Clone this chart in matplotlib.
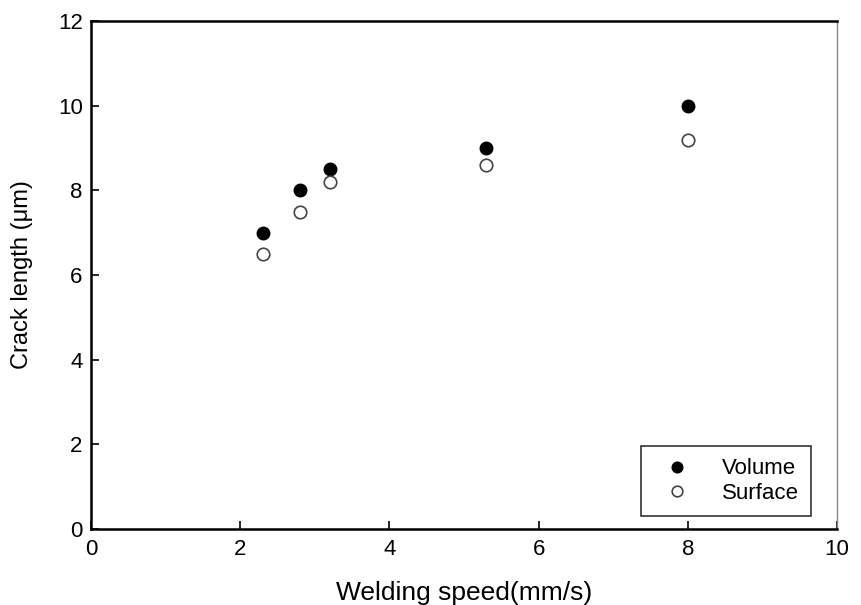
import matplotlib
matplotlib.use("Agg")
import matplotlib.pyplot as plt
from matplotlib import font_manager

speed = [2.3, 2.8, 3.2, 5.3, 8.0]
volume = [7.0, 8.0, 8.5, 9.0, 10.0]
surface = [6.5, 7.5, 8.2, 8.6, 9.2]
xticks = [0, 2, 4, 6, 8, 10]
yticks = [0, 2, 4, 6, 8, 10, 12]

plt.rcParams['font.family'] = ['Liberation Sans', 'DejaVu Sans']
names = {f.name for f in font_manager.fontManager.ttflist}
tick_family = ['Liberation Sans Narrow'] if 'Liberation Sans Narrow' in names else ['Liberation Sans']

fig = plt.figure(figsize=(8.61, 6.05), dpi=100)
ax = fig.add_axes([91/861, 1-529/605, (837-91)/861, (529-21)/605])

ax.plot(speed, volume, 'o', color='black', markersize=9, label='Volume', linestyle='none')
ax.plot(speed, surface, 'o', markerfacecolor='white', markeredgecolor='#444444',
        markeredgewidth=1.2, markersize=9, label='Surface', linestyle='none')

ax.set_xlim(0, 10)
ax.set_ylim(0, 12)
ax.set_xticks(xticks)
ax.set_yticks(yticks)
ax.tick_params(direction='in', length=6, width=1.2, labelsize=16, pad=6)
ax.tick_params(axis='x', pad=7)
for lab in ax.get_xticklabels() + ax.get_yticklabels():
    lab.set_family(tick_family)

ax.spines['left'].set_linewidth(1.8)
ax.spines['bottom'].set_linewidth(1.8)
ax.spines['top'].set_linewidth(1.8)
ax.spines['right'].set_linewidth(1.0)
ax.spines['right'].set_color('#888888')

ax.set_xlabel('Welding speed(mm/s)', fontsize=19, labelpad=15)
ax.set_ylabel('Crack length (μm)', fontsize=17, labelpad=18)

leg = ax.legend(loc='lower right', bbox_to_anchor=((811-91)/746, (529-516)/508),
                fontsize=16, frameon=True, fancybox=False, edgecolor='black',
                borderpad=0.55, handletextpad=0.9, labelspacing=0.15, borderaxespad=0,
                handlelength=2.2, markerscale=0.85)
leg.get_frame().set_linewidth(1.2)

fig.savefig('out.png', dpi=100, facecolor='white')
